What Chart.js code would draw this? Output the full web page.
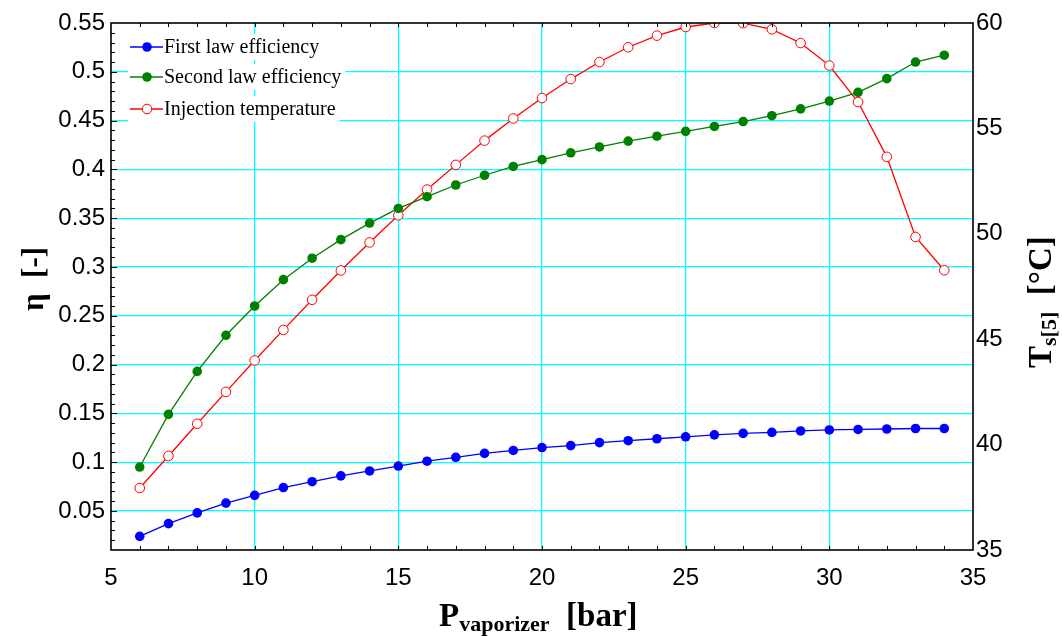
<!DOCTYPE html>
<html>
<head>
<meta charset="utf-8">
<title>Vaporizer pressure</title>
<script src="https://cdn.jsdelivr.net/npm/chart.js@4.4.1/dist/chart.umd.min.js"></script>
<style>
  html, body { margin: 0; padding: 0; background: #fff; }
  #chart { display: block; }
</style>
</head>
<body>
<canvas id="chart" width="1062" height="636"></canvas>
<script>
// vaporizer pressure [bar]
const pressure = [6, 7, 8, 9, 10, 11, 12, 13, 14, 15, 16, 17, 18, 19, 20,
                  21, 22, 23, 24, 25, 26, 27, 28, 29, 30, 31, 32, 33, 34];

// efficiencies [-] (left axis)
const firstLaw = [0.024, 0.037, 0.048, 0.058, 0.066, 0.074, 0.080, 0.086, 0.091, 0.096,
                  0.101, 0.105, 0.109, 0.112, 0.115, 0.117, 0.120, 0.122, 0.124, 0.126,
                  0.128, 0.1295, 0.1305, 0.132, 0.133, 0.1335, 0.134, 0.1345, 0.1345];
const secondLaw = [0.095, 0.149, 0.193, 0.230, 0.260, 0.287, 0.309, 0.328, 0.345, 0.360,
                   0.372, 0.384, 0.394, 0.403, 0.410, 0.417, 0.423, 0.429, 0.434, 0.439,
                   0.444, 0.449, 0.455, 0.462, 0.470, 0.479, 0.493, 0.510, 0.517];

// injection temperature [°C] (right axis)
const injectionTemp = [37.94, 39.46, 40.99, 42.50, 43.99, 45.44, 46.87, 48.26, 49.59, 50.88,
                       52.10, 53.27, 54.42, 55.47, 56.44, 57.34, 58.15, 58.85, 59.40, 59.81,
                       60.00, 59.99, 59.70, 59.05, 57.98, 56.25, 53.65, 49.85, 48.27];

const etaTicks = [0.05, 0.1, 0.15, 0.2, 0.25, 0.3, 0.35, 0.4, 0.45, 0.5, 0.55];

const seriesNames = ['First law efficiency', 'Second law efficiency', 'Injection temperature'];
const seriesColors = ['#0000ff', '#008000', '#ff0000'];

const toPoints = vals => pressure.map((p, i) => ({ x: p, y: vals[i] }));

const GRID = '#00ffff';
const tickFont = { family: '"Liberation Sans", Arial, sans-serif', size: 24 };

// frame, inward minor ticks, axis titles and the legend box
const decorations = {
    id: 'decorations',
    afterDraw(chart) {
        const ctx = chart.ctx;
        const area = chart.chartArea;
        const xs = chart.scales.x;
        const yl = chart.scales.y;

        ctx.save();
        ctx.strokeStyle = '#000';
        ctx.lineWidth = 1;
        ctx.beginPath();
        for (let p = 6; p < 35; p++) {
            const px = Math.round(xs.getPixelForValue(p)) + 0.5;
            ctx.moveTo(px, area.bottom);
            ctx.lineTo(px, area.bottom - 4);
            ctx.moveTo(px, area.top);
            ctx.lineTo(px, area.top + 4);
        }
        for (let k = 2; k < 55; k++) {
            const py = Math.round(yl.getPixelForValue(k / 100)) + 0.5;
            ctx.moveTo(area.left, py);
            ctx.lineTo(area.left + (k % 5 === 0 ? 6 : 4), py);
        }
        ctx.stroke();

        ctx.lineWidth = 1.6;
        ctx.strokeRect(area.left, area.top, area.right - area.left, area.bottom - area.top);

        // legend
        const rows = [47, 77, 109];
        ctx.font = '20px "Liberation Serif", "Times New Roman", serif';
        ctx.textBaseline = 'middle';
        rows.forEach((ry, i) => {
            const tw = ctx.measureText(seriesNames[i]).width;
            ctx.fillStyle = '#fff';
            ctx.fillRect(128, ry - 13, 164 + tw + 4 - 128, 26);
            ctx.strokeStyle = seriesColors[i];
            ctx.lineWidth = 1.3;
            ctx.beginPath();
            ctx.moveTo(130, ry);
            ctx.lineTo(163, ry);
            ctx.stroke();
            ctx.beginPath();
            ctx.arc(147, ry, 4.8, 0, Math.PI * 2);
            if (i === 2) {
                ctx.fillStyle = '#fff';
                ctx.fill();
                ctx.lineWidth = 1;
                ctx.stroke();
            } else {
                ctx.fillStyle = seriesColors[i];
                ctx.fill();
            }
            ctx.fillStyle = '#000';
            ctx.fillText(seriesNames[i], 164, ry + 1);
        });

        // axis titles
        const big = 'bold 33px "Liberation Serif", "Times New Roman", serif';
        const small = 'bold 22px "Liberation Serif", "Times New Roman", serif';
        ctx.fillStyle = '#000';
        ctx.textBaseline = 'alphabetic';

        // x title with subscript
        ctx.font = big;
        let x = 439;
        ctx.fillText('P', x, 626);
        x += ctx.measureText('P').width;
        ctx.font = small;
        ctx.fillText('vaporizer', x, 631);
        x += ctx.measureText('vaporizer').width;
        ctx.font = big;
        ctx.fillText('  [bar]', x, 626);

        // left title
        ctx.save();
        ctx.translate(43, 279);
        ctx.rotate(-Math.PI / 2);
        ctx.font = 'bold 31px "Liberation Serif", "Times New Roman", serif';
        ctx.textAlign = 'center';
        ctx.fillText('η  [-]', 0, 0);
        ctx.restore();

        // right title with subscript
        ctx.save();
        ctx.translate(1051, 368);
        ctx.rotate(-Math.PI / 2);
        ctx.textAlign = 'left';
        ctx.font = big;
        let t = 0;
        ctx.fillText('T', t, 0);
        t += ctx.measureText('T').width;
        ctx.font = small;
        ctx.fillText('s[5]', t, 5);
        t += ctx.measureText('s[5]').width;
        ctx.font = big;
        ctx.fillText('  [°C]', t, 0);
        ctx.restore();

        ctx.restore();
    }
};

const chart = new Chart(document.getElementById('chart'), {
    type: 'line',
    data: {
        datasets: [
            {
                label: seriesNames[0],
                data: toPoints(firstLaw),
                yAxisID: 'y',
                borderColor: seriesColors[0],
                backgroundColor: seriesColors[0],
                borderWidth: 1.3,
                pointRadius: 4.8,
                pointBorderWidth: 0,
                tension: 0
            },
            {
                label: seriesNames[1],
                data: toPoints(secondLaw),
                yAxisID: 'y',
                borderColor: seriesColors[1],
                backgroundColor: seriesColors[1],
                borderWidth: 1.3,
                pointRadius: 4.8,
                pointBorderWidth: 0,
                tension: 0
            },
            {
                label: seriesNames[2],
                data: toPoints(injectionTemp),
                yAxisID: 'y1',
                borderColor: seriesColors[2],
                backgroundColor: '#ffffff',
                borderWidth: 1.3,
                pointRadius: 4.8,
                pointBorderWidth: 1,
                pointBackgroundColor: '#ffffff',
                tension: 0
            }
        ]
    },
    options: {
        responsive: false,
        animation: false,
        layout: { padding: { top: 23, left: 0, right: 0, bottom: 0 } },
        plugins: {
            legend: { display: false },
            tooltip: { enabled: false }
        },
        scales: {
            x: {
                type: 'linear',
                min: 5,
                max: 35,
                afterFit: s => { s.height = 86; },
                ticks: { stepSize: 5, font: tickFont, color: '#000', padding: 14, maxRotation: 0 },
                grid: {
                    drawTicks: false,
                    lineWidth: 1.3,
                    color: c => (c.tick && (c.tick.value === 5 || c.tick.value === 35)) ? 'rgba(0,0,0,0)' : GRID
                },
                border: { display: false }
            },
            y: {
                type: 'linear',
                position: 'left',
                min: 0.01,
                max: 0.55,
                afterFit: s => { s.width = 111; },
                afterBuildTicks: s => { s.ticks = etaTicks.map(v => ({ value: v })); },
                ticks: {
                    font: tickFont,
                    color: '#000',
                    padding: 6,
                    callback: v => String(+Number(v).toFixed(2))
                },
                grid: {
                    drawTicks: false,
                    lineWidth: 1.3,
                    color: c => (c.tick && c.tick.value === 0.55) ? 'rgba(0,0,0,0)' : GRID
                },
                border: { display: false }
            },
            y1: {
                type: 'linear',
                position: 'right',
                min: 35,
                max: 60,
                afterFit: s => { s.width = 89; },
                ticks: { stepSize: 5, font: tickFont, color: '#000', padding: 3 },
                grid: { drawOnChartArea: false, drawTicks: false },
                border: { display: false }
            }
        }
    },
    plugins: [decorations]
});
</script>
</body>
</html>
